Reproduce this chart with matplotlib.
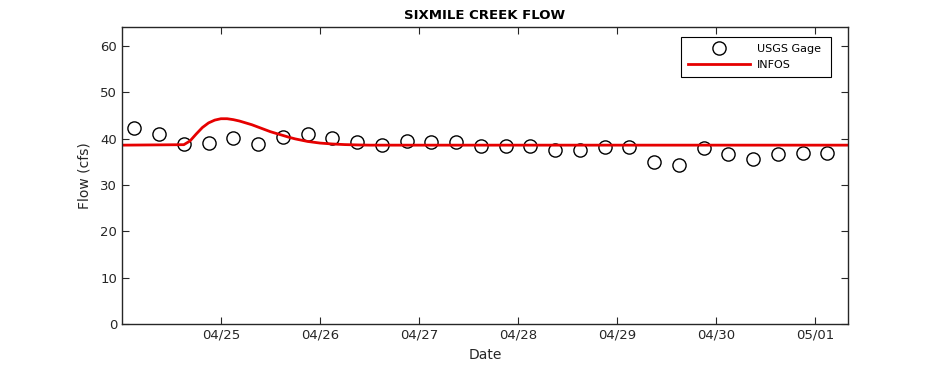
import matplotlib

matplotlib.use("Agg")
import matplotlib.dates as mdates
import matplotlib.pyplot as plt
import numpy as np
import pandas as pd

# USGS gage readings, every 6 h starting 04/24 03:00
gage_start = "2023-04-24 03:00"
gage_flow = [
    42.2, 40.9, 38.9, 39.0, 40.2, 38.8, 40.4, 41.1, 40.1, 39.3,
    38.6, 39.5, 39.3, 39.3, 38.5, 38.4, 38.4, 37.5, 37.5, 38.2,
    38.2, 35.0, 34.3, 37.9, 36.6, 35.7, 36.6, 37.0, 37.0,
]

# INFOS model, hours after 04/24 00:00
infos_hours = [0, 15, 16.5, 18, 19.5, 21, 22.5, 24, 25.5, 27, 28.5, 30, 31.5,
               33, 34.5, 36, 37.5, 39, 40.5, 42, 45, 48, 51, 54, 57, 60, 176]
infos_flow = [38.6, 38.7, 39.5, 41.0, 42.4, 43.4, 44.0, 44.3, 44.3, 44.1, 43.8,
              43.4, 43.0, 42.5, 42.0, 41.5, 41.1, 40.7, 40.3, 39.95, 39.4,
              39.05, 38.85, 38.72, 38.65, 38.6, 38.6]

t0 = pd.Timestamp("2023-04-24 00:00")
gage_time = pd.date_range(gage_start, periods=len(gage_flow), freq="6h")
infos_time = t0 + pd.to_timedelta(infos_hours, unit="h")

fig = plt.figure(figsize=(9.38, 3.65), dpi=100)
ax = fig.add_axes([0.130, 0.112, 0.774, 0.813])

ax.plot(gage_time, gage_flow, linestyle="none", marker="o", markersize=9.5,
        markerfacecolor="none", markeredgecolor="black", markeredgewidth=1.0,
        label="USGS Gage")
ax.plot(infos_time, infos_flow, color="#e60000", linewidth=2.0, label="INFOS")

ax.set_xlim(t0, t0 + pd.Timedelta(hours=176))
ax.set_ylim(0, 64)
ax.set_yticks(np.arange(0, 61, 10))
ax.set_xticks([t0 + pd.Timedelta(days=d) for d in range(1, 8)])
ax.xaxis.set_major_formatter(mdates.DateFormatter("%m/%d"))

ax.tick_params(direction="in", length=5, width=0.8, top=True, right=True,
               labelsize=9.5, colors="#262626")
for spine in ax.spines.values():
    spine.set_linewidth(1.0)
    spine.set_color("#262626")

ax.set_title("SIXMILE CREEK FLOW", fontsize=9.5, fontweight="bold", pad=6)
ax.set_xlabel("Date", fontsize=10, color="#262626", labelpad=4)
ax.set_ylabel("Flow (cfs)", fontsize=10, color="#262626", labelpad=6)

leg = ax.legend(["USGS Gage ", "INFOS"], loc="upper right",
                bbox_to_anchor=(0.9766, 0.966), borderaxespad=0, fontsize=8,
                numpoints=1, handlelength=5.6, handletextpad=0.6,
                borderpad=0.6, labelspacing=0.55, fancybox=False, framealpha=1)
leg.get_frame().set_edgecolor("black")
leg.get_frame().set_linewidth(0.8)

fig.savefig("out.png", dpi=100, facecolor="white")
